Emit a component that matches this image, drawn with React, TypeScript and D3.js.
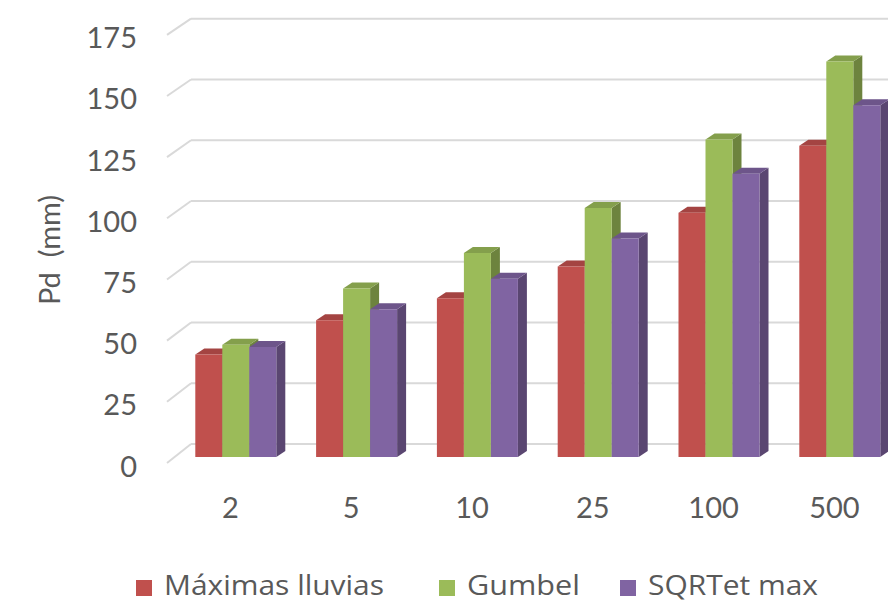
import React from "react";
import * as d3 from "d3";

// Return periods (years) and design precipitation per method
const categories = ["2", "5", "10", "25", "100", "500"];
const maximasLluvias = [42, 56, 65, 78, 100, 127.5];
const gumbel = [46, 69, 83.5, 102, 130, 162];
const sqrtEtMax = [45, 60.5, 73, 89.5, 116, 144];
const seriesNames = ["Máximas lluvias", "Gumbel", "SQRTet max"];
const seriesColors = ["#C0504D", "#9BBB59", "#8064A2"];
const yTicks = [0, 25, 50, 75, 100, 125, 150, 175];

const W = 888;
const H = 603;
const FONT = "Lato, 'Noto Sans', sans-serif";
const LEGEND_FONT = "'Open Sans', 'Noto Sans', sans-serif";
const TEXT = "#595959";
const GRID = "#d9d9d9";

export default function App() {
  const seriesValues = [maximasLluvias, gumbel, sqrtEtMax];

  // wall/floor geometry of the 3D plot
  const yFront = d3.scaleLinear().domain([0, 175]).range([463, 34.8]);
  const yBack = d3.scaleLinear().domain([0, 175]).range([444, 18.7]);
  const xFrontLeft = 167;
  const xBackLeft = 191;

  // bars stand slightly behind the front edge of the floor
  const yBar = d3.scaleLinear().domain([0, 175]).range([457, 457 - 175 * 2.442]);
  const xBand = d3.scaleBand<string>().domain(categories).range([169, 169 + 6 * 120.8]);
  const groupW = 81;
  const groupShift = 6.4;
  const xInner = d3.scaleBand<number>().domain([0, 1, 2]).range([0, groupW]);
  const depthX = 9;
  const depthY = -6;

  const bars: React.ReactNode[] = [];
  categories.forEach((c, ci) => {
    const gx = (xBand(c) as number) + xBand.bandwidth() / 2 + groupShift - groupW / 2;
    seriesValues.forEach((vals, si) => {
      const v = vals[ci];
      const x0 = gx + (xInner(si) as number);
      const x1 = x0 + xInner.bandwidth();
      const yT = yBar(v);
      const yB = yBar(0);
      const base = d3.color(seriesColors[si])!;
      const top = base.darker(0.45).formatHex();
      const side = base.darker(1.0).formatHex();
      const front = d3.path();
      front.rect(x0, yT, x1 - x0, yB - yT);
      const sideP = d3.path();
      sideP.moveTo(x1, yT);
      sideP.lineTo(x1 + depthX, yT + depthY);
      sideP.lineTo(x1 + depthX, yB + depthY);
      sideP.lineTo(x1, yB);
      sideP.closePath();
      const topP = d3.path();
      topP.moveTo(x0, yT);
      topP.lineTo(x0 + depthX, yT + depthY);
      topP.lineTo(x1 + depthX, yT + depthY);
      topP.lineTo(x1, yT);
      topP.closePath();
      bars.push(
        <g key={`${ci}-${si}`}>
          <path d={sideP.toString()} fill={side} />
          <path d={topP.toString()} fill={top} />
          <path d={front.toString()} fill={seriesColors[si]} />
        </g>
      );
    });
  });

  const legendX = [136, 439, 620];
  const legendTextW = [220, 113, 170];

  return (
    <svg
      width={W}
      height={H}
      style={{ position: "absolute", left: 0, top: 0, background: "#fff" }}
      fontFamily={FONT}
    >
      {/* gridlines: left wall diagonal + back wall */}
      {yTicks.map((t) => (
        <g key={t}>
          <line
            x1={xFrontLeft}
            y1={yFront(t)}
            x2={xBackLeft}
            y2={yBack(t)}
            stroke={GRID}
            strokeWidth={2}
          />
          <line x1={xBackLeft} y1={yBack(t)} x2={W} y2={yBack(t)} stroke={GRID} strokeWidth={2} />
        </g>
      ))}

      {bars}

      {/* y tick labels */}
      {yTicks.map((t) => (
        <text
          key={t}
          x={137}
          y={yFront(t) + 2}
          textAnchor="end"
          dominantBaseline="central"
          fontSize={29}
          fill={TEXT}
        >
          {t}
        </text>
      ))}

      {/* category labels */}
      {categories.map((c) => (
        <text
          key={c}
          x={(xBand(c) as number) + xBand.bandwidth() / 2 + 1}
          y={518}
          textAnchor="middle"
          fontSize={29}
          fill={TEXT}
        >
          {c}
        </text>
      ))}

      {/* axis title */}
      <text
        transform={`translate(48,250) rotate(-90)`}
        textAnchor="middle"
        dominantBaseline="central"
        fontSize={29}
        fill={TEXT}
        style={{ whiteSpace: "pre" }}
      >
        {"Pd  (mm)"}
      </text>

      {/* legend */}
      {seriesNames.map((n, i) => (
        <g key={n}>
          <rect x={legendX[i]} y={580} width={16} height={16} fill={seriesColors[i]} />
          <text
            x={legendX[i] + 28}
            y={595}
            fontSize={28}
            fontFamily={LEGEND_FONT}
            fill={TEXT}
            textLength={legendTextW[i]}
            lengthAdjust="spacingAndGlyphs"
          >
            {n}
          </text>
        </g>
      ))}
    </svg>
  );
}
